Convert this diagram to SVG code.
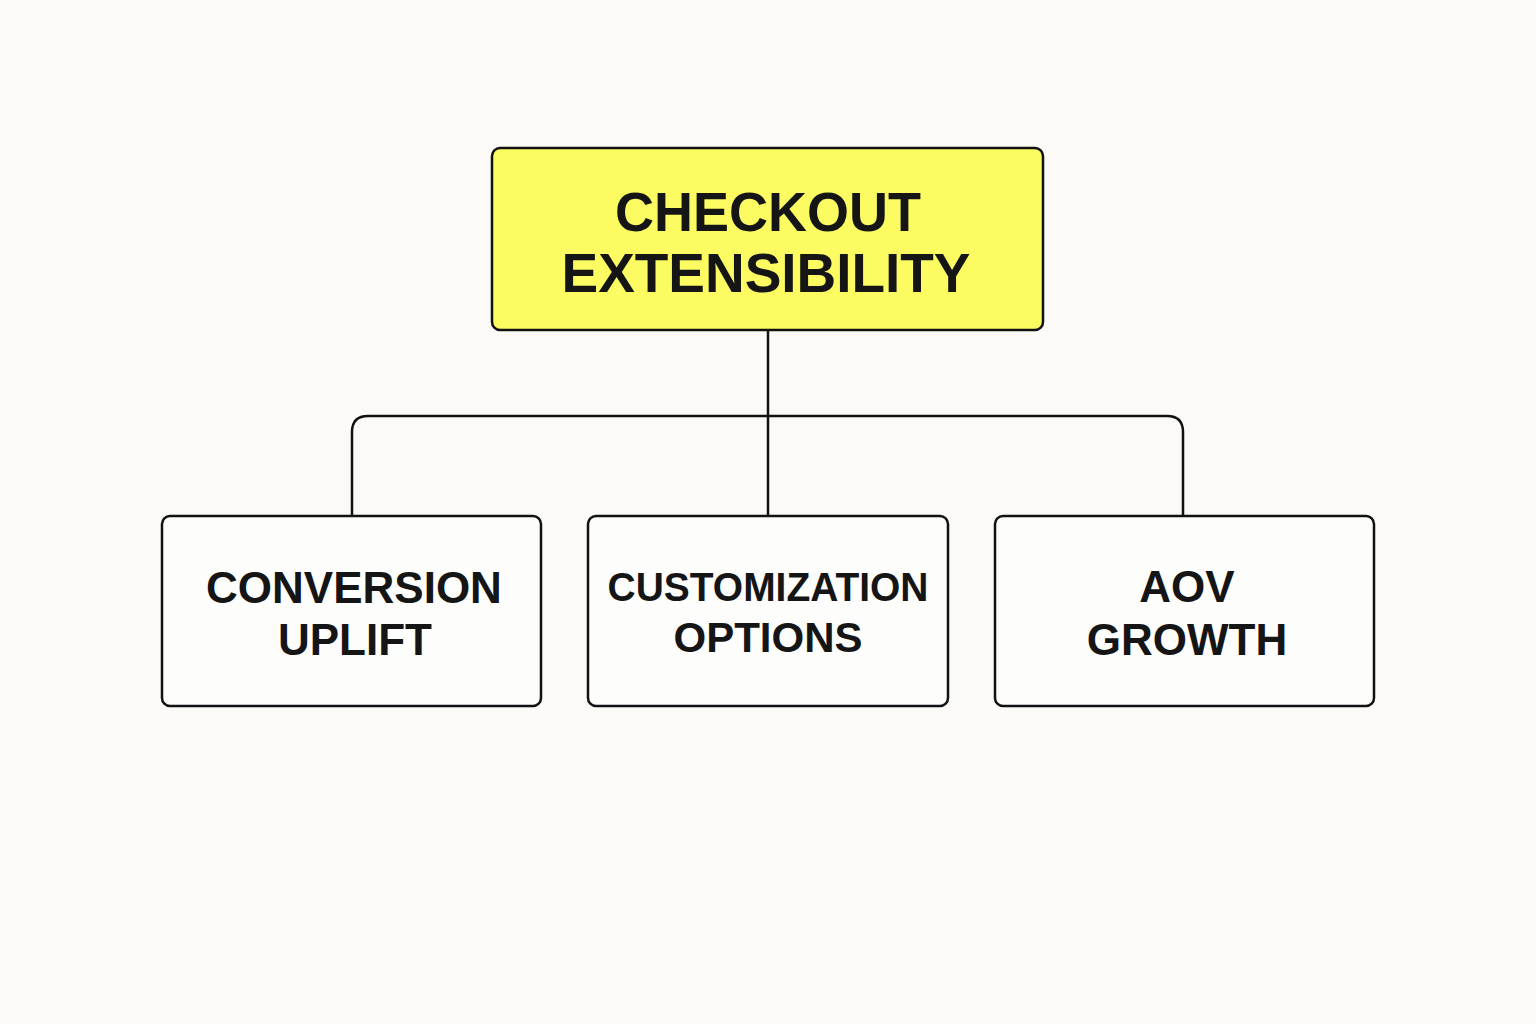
<svg xmlns="http://www.w3.org/2000/svg" width="1536" height="1024" viewBox="0 0 1536 1024">
<style>
.box{fill:#fdfdfb;stroke:#111;stroke-width:2.5}
.top{fill:#fcfc62;stroke:#111;stroke-width:2.5}
.t{font-family:"Liberation Sans",Arial,sans-serif;font-weight:bold;fill:#151515;text-anchor:middle}
.c{fill:none;stroke:#111;stroke-width:2.5}
</style>
<rect width="1536" height="1024" fill="#fbfaf7"/>
<g id="connectors">
<path class="c" d="M768 330 V516"/>
<path class="c" d="M352 516 V432 Q352 416 368 416 H1167 Q1183 416 1183 432 V516"/>
</g>
<g id="node-checkout">
<rect class="top" x="492" y="148" width="551" height="182" rx="8"/>
<text class="t" x="768" y="231" font-size="56" textLength="306" lengthAdjust="spacingAndGlyphs">CHECKOUT</text>
<text class="t" x="766" y="292" font-size="56" textLength="409" lengthAdjust="spacingAndGlyphs">EXTENSIBILITY</text>
</g>
<g id="node-conversion">
<rect class="box" x="162" y="516" width="379" height="190" rx="8"/>
<text class="t" x="354" y="603" font-size="44">CONVERSION</text>
<text class="t" x="355" y="655" font-size="44">UPLIFT</text>
</g>
<g id="node-customization">
<rect class="box" x="588" y="516" width="360" height="190" rx="8"/>
<text class="t" x="768" y="601" font-size="40" textLength="321" lengthAdjust="spacingAndGlyphs">CUSTOMIZATION</text>
<text class="t" x="768" y="652" font-size="42">OPTIONS</text>
</g>
<g id="node-aov">
<rect class="box" x="995" y="516" width="379" height="190" rx="8"/>
<text class="t" x="1187" y="602" font-size="44">AOV</text>
<text class="t" x="1187" y="655" font-size="44">GROWTH</text>
</g>
</svg>
